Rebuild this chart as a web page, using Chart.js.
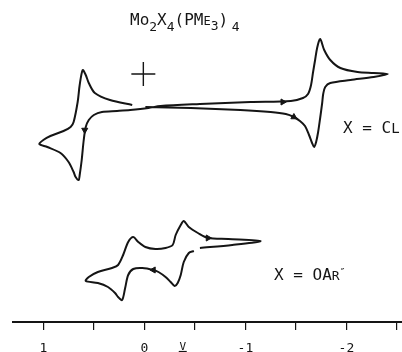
<!DOCTYPE html>
<html>
<head>
<meta charset="utf-8">
<script src="https://cdn.jsdelivr.net/npm/chart.js@4/dist/chart.umd.min.js"></script>
<style>
  body { margin: 0; background: #fff; }
  canvas { display: block; }
</style>
</head>
<body>
<canvas id="cvChart" width="402" height="352"></canvas>
<script>
// potential (V) and current (arbitrary units)
// X = Cl, one continuous scan
const clPotential = [-0.01, -0.46, -0.95, -1.25, -1.40, -1.48, -1.54, -1.59, -1.63, -1.66, -1.68,
  -1.70, -1.72, -1.74, -1.76, -1.77, -1.79, -1.84, -2.04, -2.27, -2.41,
  -2.27, -2.11, -1.94, -1.84, -1.78, -1.74, -1.71, -1.69, -1.67, -1.65, -1.62, -1.57, -1.45,
  -1.05, -0.55, -0.16, -0.04, 0.14, 0.27, 0.42, 0.50, 0.55, 0.58, 0.60, 0.62, 0.64, 0.65,
  0.68, 0.70, 0.75, 0.83, 0.96, 1.04, 1.00, 0.93, 0.80, 0.73, 0.70, 0.66, 0.64, 0.61,
  0.58, 0.55, 0.49, 0.34, 0.12];
const clCurrent = [21.5, 21.4, 21.2, 21.0, 20.8, 20.5, 20.1, 19.6, 18.7, 17.9, 17.5,
  18.0, 19.0, 20.4, 21.9, 22.8, 23.5, 23.9, 24.2, 24.5, 24.8,
  24.9, 25.0, 25.4, 26.2, 27.2, 28.3, 27.4, 26.2, 25.0, 23.7, 22.8, 22.4, 22.1,
  22.0, 21.8, 21.6, 21.4, 21.2, 21.1, 21.0, 20.7, 20.2, 19.5, 18.2, 16.2, 14.7, 14.2,
  14.5, 15.0, 16.0, 16.9, 17.5, 17.8, 18.2, 18.6, 19.1, 19.5, 20.0, 22.0, 23.7, 25.2,
  24.7, 23.9, 22.9, 22.2, 21.7];

// X = OAr''
const oarPotential = [-0.49, -0.44, -0.39, -0.36, -0.33, -0.30, -0.26, -0.21, -0.14, -0.09,
  0.02, 0.11, 0.16, 0.19, 0.22, 0.26, 0.29, 0.36, 0.46, 0.58,
  0.55, 0.46, 0.32, 0.26, 0.21, 0.16, 0.11, 0.06, -0.01, -0.11, -0.21, -0.28,
  -0.31, -0.36, -0.39, -0.44, -0.53, -0.63, -0.83, -1.15, -0.87, -0.55];
const oarCurrent = [7.1, 6.9, 6.0, 4.7, 3.9, 3.6, 4.0, 4.5, 5.0, 5.2,
  5.4, 5.3, 4.7, 3.4, 2.2, 2.5, 2.9, 3.5, 3.9, 4.1,
  4.5, 5.0, 5.4, 5.7, 6.7, 8.0, 8.5, 8.0, 7.5, 7.3, 7.4, 7.7,
  8.7, 9.7, 10.1, 9.5, 8.9, 8.4, 8.3, 8.1, 7.7, 7.4];

// scan direction arrows
const arrowPotential = [0.59, -1.37, -1.48, -0.63, -0.09];
const arrowCurrent = [19.2, 22.0, 20.5, 8.4, 5.2];
const arrowAngle = [180, 90, 120, 90, 270];

// zero-current reference cross
const refPotential = [0.01];
const refCurrent = [24.8];

const tickValues = [1, 0.5, 0, -0.5, -1, -1.5, -2, -2.5];
const tickLabels = ["1", "", "0", "", "-1", "", "-2", ""];

const ink = "#151515";
const mono = '"DejaVu Sans Mono", monospace';
const pts = (xs, ys) => xs.map((x, i) => ({ x: x, y: ys[i] }));

// runs of [text, baseline shift, font size]
function drawRun(ctx, x, y, parts) {
  parts.forEach(([t, dy, size]) => {
    ctx.font = size + "px " + mono;
    ctx.fillText(t, x, y + dy);
    x += ctx.measureText(t).width;
  });
}

const labelsPlugin = {
  id: "labels",
  afterDraw(chart) {
    const ctx = chart.ctx;
    ctx.save();
    ctx.fillStyle = ink;
    ctx.strokeStyle = ink;
    ctx.textBaseline = "alphabetic";
    drawRun(ctx, 130, 25, [["Mo", 0, 16], ["2", 6, 13], ["X", 0, 16], ["4", 6, 13],
      ["(PM", 0, 16], ["E", 0, 12], ["3", 5, 13], [")", 0, 16], [" ", 0, 6], ["4", 6, 13]]);
    drawRun(ctx, 343, 133, [["X = C", 0, 16], ["L", 0, 14]]);
    drawRun(ctx, 274, 280, [["X = OA", 0, 16], ["R", 0, 13], ["\u2033", -4, 10]]);
    // axis unit, underlined
    const vx = chart.scales.x.getPixelForValue(-0.38);
    ctx.font = "11px " + mono;
    ctx.textAlign = "center";
    ctx.fillText("V", vx, 350);
    ctx.lineWidth = 1.2;
    ctx.beginPath();
    ctx.moveTo(vx - 4, 351.5);
    ctx.lineTo(vx + 4, 351.5);
    ctx.stroke();
    ctx.restore();
  },
};

const ctx1 = document.getElementById("cvChart").getContext("2d");
new Chart(ctx1, {
  type: "scatter",
  data: {
    datasets: [
      {
        data: pts(clPotential, clCurrent),
        showLine: true,
        borderColor: ink,
        borderWidth: 2,
        pointRadius: 0,
        tension: 0.3,
      },
      {
        data: pts(oarPotential, oarCurrent),
        showLine: true,
        borderColor: ink,
        borderWidth: 2,
        pointRadius: 0,
        tension: 0.3,
      },
      {
        data: pts(arrowPotential, arrowCurrent),
        pointStyle: "triangle",
        rotation: arrowAngle,
        pointRadius: 3.5,
        backgroundColor: ink,
        borderColor: ink,
        borderWidth: 1,
      },
      {
        data: pts(refPotential, refCurrent),
        pointStyle: "cross",
        pointRadius: 12,
        borderColor: ink,
        borderWidth: 1.4,
      },
    ],
  },
  options: {
    responsive: false,
    animation: false,
    devicePixelRatio: 1,
    layout: { autoPadding: false, padding: { left: 13, right: 0, top: 0, bottom: 0 } },
    plugins: { legend: { display: false }, tooltip: { enabled: false } },
    scales: {
      x: {
        type: "linear",
        reverse: true,
        min: -2.55,
        max: 1.3,
        afterBuildTicks: (s) => {
          s.ticks = tickValues.map((v) => ({ value: v }));
        },
        afterFit: (s) => {
          s.height = 30;
          s.paddingLeft = 0;
          s.paddingRight = 0;
        },
        border: { display: true, color: ink, width: 2 },
        grid: { drawOnChartArea: false, drawTicks: true, tickLength: 8, color: ink, lineWidth: 1.2 },
        ticks: {
          autoSkip: false,
          maxRotation: 0,
          padding: 11,
          color: ink,
          font: { family: mono, size: 13 },
          callback: (v, i) => tickLabels[i],
        },
      },
      y: { display: false, min: 0, max: 32.2 },
    },
  },
  plugins: [labelsPlugin],
});
</script>
</body>
</html>
